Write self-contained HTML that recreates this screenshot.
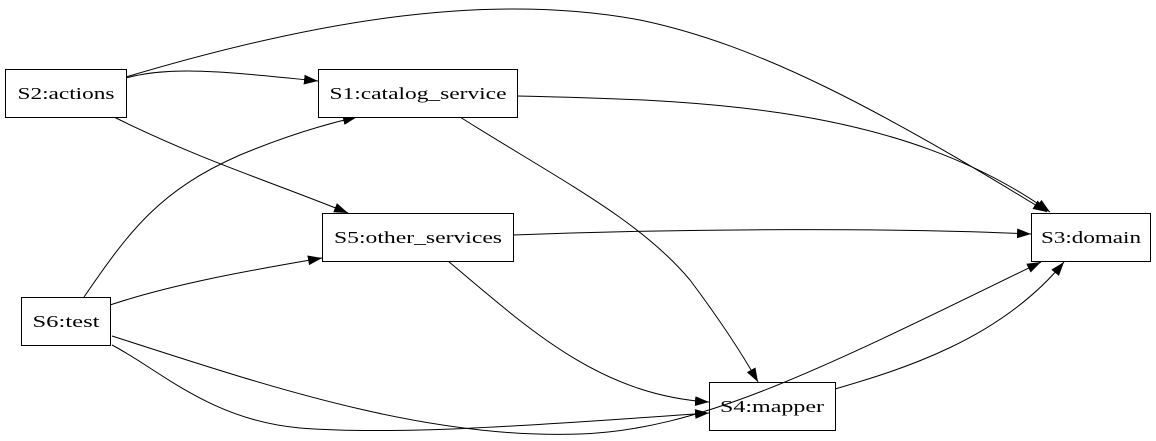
<!DOCTYPE html>
<html><head><meta charset="utf-8"><style>
html,body{margin:0;padding:0;background:#fff;}
svg{display:block;}
text{font-family:"Liberation Serif","DejaVu Serif",Times,serif;font-size:17px;fill:#000;}
</style></head><body>
<svg width="1156" height="441" viewBox="0 0 1156 441" xmlns="http://www.w3.org/2000/svg">
<defs>
<marker id="a" viewBox="0 0 10 7" refX="10" refY="3.5" markerWidth="14" markerHeight="10" markerUnits="userSpaceOnUse" orient="auto">
<path d="M0,0 L10,3.5 L0,7 Z" fill="#000"/>
</marker>
</defs>
<g fill="none" stroke="#000" stroke-width="1" marker-end="url(#a)">
<path d="M126,77 C300,25 480,-10 640,20 C760,45 880,110 1047,212"/>
<path d="M126,78 C170,66 220,71 318,81"/>
<path d="M114,117 C200,160 280,185 348,213"/>
<path d="M517,96 C700,100 900,105 1050,212"/>
<path d="M460,117 C560,180 640,220 690,280 C720,320 740,350 758,382"/>
<path d="M513,235 C700,228 900,228 1031,234"/>
<path d="M448,261 C530,330 600,395 709,402"/>
<path d="M84,297 C130,230 160,190 240,155 Q300,130 357,117"/>
<path d="M110,305 C170,285 240,272 322,258"/>
<path d="M112,345 C160,370 210,420 300,428 C400,436 550,424 709,413"/>
<path d="M835,389 C900,370 1000,340 1064,262"/>
</g>
<g fill="#fff" stroke="#000" stroke-width="1">
<rect x="5.5" y="69.5" width="121" height="48"/>
<rect x="318.5" y="69.5" width="199" height="48"/>
<rect x="322.5" y="213.5" width="191" height="48"/>
<rect x="21.5" y="297.5" width="89" height="48"/>
<rect x="709.5" y="382.5" width="126" height="48"/>
<rect x="1031.5" y="213.5" width="119" height="48"/>
</g>
<g text-anchor="middle">
<text x="66" y="99" textLength="97" lengthAdjust="spacingAndGlyphs">S2:actions</text>
<text x="418" y="99" textLength="177" lengthAdjust="spacingAndGlyphs">S1:catalog_service</text>
<text x="418" y="243" textLength="168" lengthAdjust="spacingAndGlyphs">S5:other_services</text>
<text x="66" y="327" textLength="67" lengthAdjust="spacingAndGlyphs">S6:test</text>
<text x="772" y="412" textLength="104" lengthAdjust="spacingAndGlyphs">S4:mapper</text>
<text x="1091" y="243" textLength="100" lengthAdjust="spacingAndGlyphs">S3:domain</text>
</g>
<path d="M112,336 C250,380 420,440 580,434 C700,430 820,370 1041,262" fill="none" stroke="#000" stroke-width="1" marker-end="url(#a)"/>
</svg>
</body></html>
